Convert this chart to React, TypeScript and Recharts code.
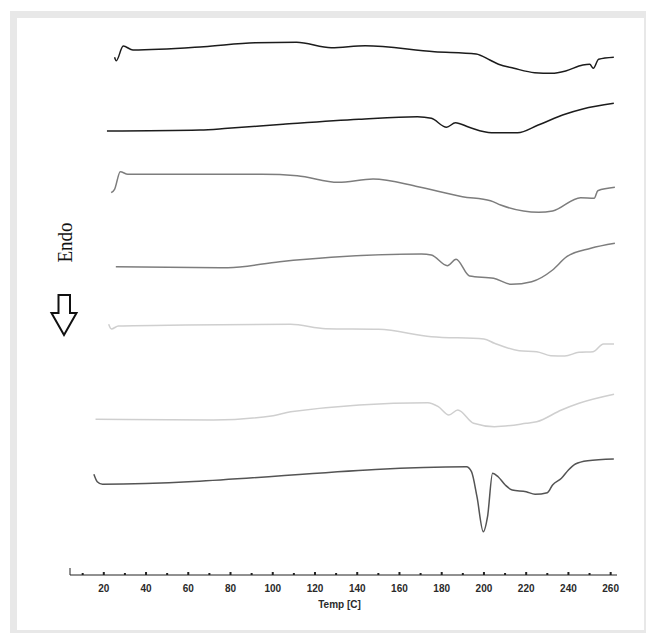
import React from 'react'
import { LineChart, Line, XAxis, YAxis, ReferenceLine } from 'recharts'

// DSC traces: temperature (C) and heat flow (arbitrary, stacked offsets)
const curve1Temp = [25.1, 25.9, 29.2, 33.8, 67.3, 91.7, 111.3, 127.7, 143.8, 176.6, 196.3, 202.8, 206.9, 214.2, 224.0, 232.1, 238.7, 246.8, 250.1, 251.8, 254.3, 261.5]
const curve1Flow = [517.7, 514.3, 529.0, 525.0, 528.3, 532.3, 532.7, 527.3, 529.3, 523.3, 521.0, 515.0, 510.7, 506.7, 502.3, 501.7, 504.0, 510.0, 510.7, 506.7, 515.7, 517.7]

const curve2Temp = [21.5, 65.6, 78.7, 104.9, 140.8, 168.5, 175.1, 182.3, 186.5, 193.0, 203.6, 215.9, 225.7, 238.7, 246.8, 261.5]
const curve2Flow = [444.0, 445.0, 446.7, 450.7, 455.7, 458.3, 456.7, 447.7, 452.3, 447.7, 442.3, 442.3, 450.0, 461.0, 466.0, 471.7]

const curve3Temp = [23.5, 25.1, 27.8, 31.4, 62.4, 95.0, 111.6, 131.0, 147.5, 168.8, 189.8, 203.1, 207.9, 225.9, 232.5, 245.8, 252.2, 253.9, 262.0]
const curve3Flow = [382.3, 385.7, 403.3, 400.7, 400.7, 400.7, 399.3, 392.7, 396.0, 388.3, 378.3, 374.3, 370.0, 362.7, 364.0, 377.3, 376.7, 384.3, 387.7]

const curve4Temp = [25.7, 78.8, 103.3, 127.7, 170.4, 175.1, 182.7, 186.8, 193.2, 204.6, 213.0, 222.6, 232.5, 239.2, 250.6, 262.0]
const curve4Flow = [308.3, 307.3, 313.3, 317.7, 321.0, 320.0, 309.3, 315.7, 299.0, 296.7, 290.7, 293.3, 305.0, 318.3, 326.7, 331.7]

const curve5Temp = [22.3, 23.6, 26.9, 58.6, 108.5, 125.1, 150.1, 175.1, 200.0, 205.0, 216.7, 225.0, 231.7, 238.3, 245.0, 251.7, 256.6, 261.6]
const curve5Flow = [250.7, 246.0, 249.0, 250.0, 250.7, 246.3, 245.7, 238.3, 236.0, 231.7, 224.3, 223.3, 219.3, 219.0, 222.7, 223.3, 231.0, 231.0]

const curve6Temp = [16.1, 71.9, 100.2, 108.5, 173.4, 178.4, 183.4, 187.6, 195.1, 205.0, 220.0, 225.0, 236.7, 245.0, 261.6]
const curve6Flow = [155.7, 155.0, 159.3, 163.3, 172.3, 168.3, 160.0, 165.0, 151.7, 148.3, 151.7, 153.3, 165.0, 171.7, 180.7]

const curve7Temp = [15.3, 16.9, 19.4, 191.7, 194.1, 196.7, 199.7, 201.7, 204.1, 206.7, 210.1, 213.4, 220.0, 224.2, 230.0, 232.5, 236.7, 240.0, 243.3, 249.1, 261.5]
const curve7Flow = [100.7, 93.3, 90.7, 108.3, 103.3, 78.3, 43.3, 58.3, 101.7, 98.3, 90.0, 85.0, 83.3, 80.7, 82.3, 90.0, 96.7, 105.0, 111.0, 114.3, 116.0]

const tempTicks = [10, 20, 30, 40, 50, 60, 70, 80, 90, 100, 110, 120, 130, 140, 150, 160, 170, 180, 190, 200, 210, 220, 230, 240, 250, 260]

const toPoints = (temps: number[], flow: number[]) => temps.map((t, i) => ({ t, v: flow[i] }))

const series = [
  { id: 'c1', data: toPoints(curve1Temp, curve1Flow), color: '#1c1c1c' },
  { id: 'c2', data: toPoints(curve2Temp, curve2Flow), color: '#1c1c1c' },
  { id: 'c3', data: toPoints(curve3Temp, curve3Flow), color: '#7d7d7d' },
  { id: 'c4', data: toPoints(curve4Temp, curve4Flow), color: '#7d7d7d' },
  { id: 'c5', data: toPoints(curve5Temp, curve5Flow), color: '#cfcfcf' },
  { id: 'c6', data: toPoints(curve6Temp, curve6Flow), color: '#cfcfcf' },
  { id: 'c7', data: toPoints(curve7Temp, curve7Flow), color: '#545454' },
]

const axisFont = "'Liberation Sans Narrow', 'Liberation Sans', Arial, sans-serif"

function TempTick(props: any) {
  const { x, y, payload } = props
  const major = payload.value % 20 === 0
  return (
    <g>
      {major ? (
        <rect x={x - 1} y={y - 3} width={2} height={3} fill="#222" />
      ) : (
        <rect x={x - 1} y={y - 2} width={2} height={2} fill="#222" />
      )}
      {major && (
        <text x={x} y={y + 17} textAnchor="middle" fontFamily={axisFont} fontSize={10} fontWeight="bold" fill="#2a2a2a">
          {payload.value}
        </text>
      )}
    </g>
  )
}

export default function App() {
  return (
    <>
      <div style={{ position: 'absolute', left: 10, top: 11, width: 636, height: 622, background: '#e8e8e8' }}>
        <div style={{ position: 'absolute', left: 7, top: 7, width: 627, height: 612, background: '#fff' }}>
          <LineChart width={627} height={612} margin={{ top: 2, right: 27, bottom: 15, left: 53 }}>
            <XAxis
              type="number"
              dataKey="t"
              domain={[4, 263]}
              ticks={tempTicks}
              interval={0}
              tick={<TempTick />}
              tickLine={false}
              tickSize={0}
              tickMargin={0}
              height={40}
              axisLine={{ stroke: '#222' }}
              allowDataOverflow
              label={{
                value: 'Temp [C]',
                position: 'insideBottom',
                offset: 7,
                dx: -4,
                style: { fontFamily: axisFont, fontSize: 10, fontWeight: 'bold', fill: '#2a2a2a' },
              }}
            />
            <YAxis hide type="number" domain={[0, 555]} allowDataOverflow />
            <ReferenceLine segment={[{ x: 4, y: 0 }, { x: 4, y: 7 }]} stroke="#222" />
            {series.map((s) => (
              <Line
                key={s.id}
                data={s.data}
                dataKey="v"
                type="monotone"
                stroke={s.color}
                strokeWidth={1.5}
                dot={false}
                activeDot={false}
                isAnimationActive={false}
              />
            ))}
          </LineChart>
        </div>
      </div>
      <svg width={100} height={360} style={{ position: 'absolute', left: 0, top: 0 }}>
        <text
          transform="translate(72,242.5) rotate(-90)"
          textAnchor="middle"
          fontFamily="'Liberation Serif', 'Times New Roman', serif"
          fontSize={22}
          textLength={40}
          lengthAdjust="spacingAndGlyphs"
          fill="#111"
        >
          Endo
        </text>
        <path d="M58.5,295 H70 V313 H76.5 L64,335 L51.5,313 H58.5 Z" fill="#fff" stroke="#111" strokeWidth={2} strokeLinejoin="miter" />
      </svg>
    </>
  )
}
